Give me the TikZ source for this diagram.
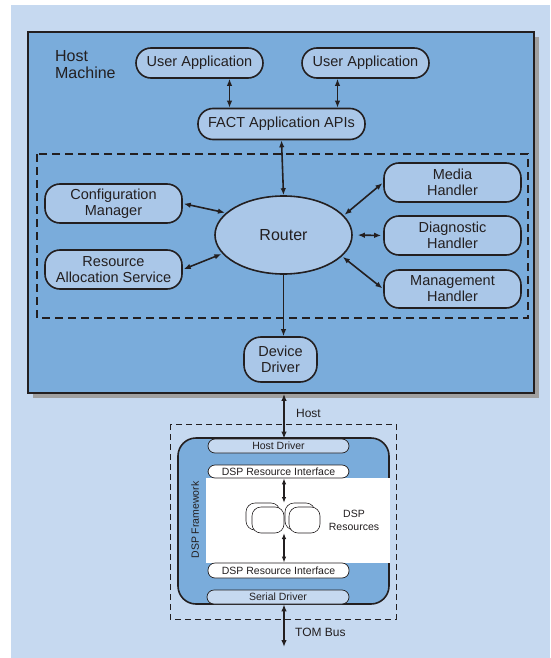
\documentclass[tikz,border=0pt]{standalone}
\usepackage{fontspec}
\setmainfont{Liberation Sans}
\usetikzlibrary{shapes.geometric,arrows.meta}
\definecolor{bgblue}{RGB}{198,217,240}
\definecolor{hostblue}{RGB}{122,172,219}
\definecolor{nodeblue}{RGB}{170,199,232}
\definecolor{shadowgray}{RGB}{160,160,160}
\definecolor{ink}{RGB}{35,31,32}

\begin{document}
\begin{tikzpicture}[x=1pt,y=-1pt,color=ink,line width=1.6pt,
		>={Latex[length=7pt,width=5.5pt]},
		box/.style={draw,fill=nodeblue,rounded corners=15pt,minimum width=137pt,minimum height=39pt,
			align=center,inner sep=2pt,font=\fontsize{14.5}{16}\selectfont},
		bar/.style={draw,line width=0.7pt,rounded corners=7pt,minimum width=141pt,minimum height=14pt,
			inner sep=0pt,font=\fontsize{10.5}{12}\selectfont},
		link/.style={<->,shorten <=1pt,shorten >=1pt},
		thinlink/.style={<->,line width=1.2pt,>={Latex[length=6pt,width=4.5pt]}},
		res/.style={draw,fill=white,line width=0.6pt,rounded corners=9pt}]
		\useasboundingbox (0,0) rectangle (550,658);
		\fill[white] (0,0) rectangle (550,658);
		\fill[bgblue] (11,5) rectangle (550,658);

		\fill[shadowgray] (33,37) rectangle (539,398);
		\node[draw,line width=1.8pt,fill=hostblue,minimum width=506pt,minimum height=361pt] (host) at (281,212.5) {};
		\node[anchor=west,align=left,font=\fontsize{16}{17}\selectfont] (hostlbl) at (51,65) {Host\\Machine};

		\node[box,minimum width=127pt,minimum height=30pt] (ua1) at (199.5,63) {User Application};
		\node[box,minimum width=127pt,minimum height=30pt] (ua2) at (365.5,63) {User Application};
		\node[box,minimum width=167pt,minimum height=31pt] (fact) at (281.5,124) {FACT Application APIs};

		\draw[line width=2pt,dash pattern=on 8pt off 5pt] (37,154) rectangle (528,318);

		\node[box] (cfg) at (113.5,203.5) {Configuration\\Manager};
		\node[box] (ras) at (113.5,269.5) {Resource\\Allocation Service};
		\node[draw,fill=nodeblue,ellipse,minimum width=137pt,minimum height=78pt,
			font=\fontsize{16}{18}\selectfont] (router) at (283.5,235) {Router};
		\node[box] (media) at (452.5,182.5) {Media\\Handler};
		\node[box] (diag) at (452.5,235.5) {Diagnostic\\Handler};
		\node[box,minimum height=38pt] (mgmt) at (452.5,289) {Management\\Handler};
		\node[box,minimum width=73pt,minimum height=45pt,rounded corners=17pt] (drv) at (280.5,359.5) {Device\\Driver};

		\draw[<->] ([xshift=30pt]ua1.south) -- ([xshift=30pt]ua1.south |- fact.north);
		\draw[<->] ([xshift=-28pt]ua2.south) -- ([xshift=-28pt]ua2.south |- fact.north);
		\draw[<->] (fact.south) -- (router.north);
		\draw[link] (cfg.east) -- (router.159);
		\draw[link] (ras.east) -- (router.197);
		\draw[link] (router.18) -- (media.west);
		\draw[<->,shorten <=5pt,shorten >=2pt] (router.east) -- (diag.west);
		\draw[link] (router.-20) -- (mgmt.west);
		\draw[->] (router.south) -- (router.south |- drv.north);

		\draw[line width=0.7pt,dash pattern=on 6pt off 4pt] (170,424) rectangle (396,619);
		\draw[fill=hostblue,rounded corners=18pt] (178,438) rectangle (389,604);
		\fill[white] (206,478) rectangle (389.8,563);
		\node[bar,fill=bgblue] (hostdrv) at (278.5,446) {Host Driver};
		\node[bar,fill=white,minimum height=13pt] (ritop) at (278.5,471.5) {DSP Resource Interface};
		\node[bar,fill=white,minimum height=15pt] (ribot) at (278.5,570.5) {DSP Resource Interface};
		\node[bar,fill=bgblue,minimum width=142pt] (serdrv) at (278,597) {Serial Driver};
		\node[rotate=90,font=\fontsize{10.5}{12}\selectfont] (fwlbl) at (195,520) {DSP Framework};

		\draw[res] (246,503) rectangle (280,530);
		\draw[res] (252,507) rectangle (284,533);
		\draw[res] (285,503) rectangle (315,530);
		\draw[res] (289,507) rectangle (320,533);
		\node[align=center,font=\fontsize{10.5}{13}\selectfont] (reslbl) at (354,520) {DSP\\Resources};

		\coordinate (restop) at (284,503);
		\coordinate (resbot) at (284,533);
		\coordinate (tom) at (284,647);
		\draw[thinlink] (ritop.south -| restop) -- (restop);
		\draw[thinlink] (resbot) -- (ribot.north -| resbot);
		\draw[<->] (host.south -| restop) -- (hostdrv.north -| restop);
		\draw[<->] (serdrv.south -| tom) -- (tom);
		\node[anchor=west,font=\fontsize{12}{14}\selectfont] (hostarr) at (292,413) {Host};
		\node[anchor=west,font=\fontsize{12}{14}\selectfont] (tomarr) at (291,632) {TOM Bus};
	\end{tikzpicture}
\end{document}
